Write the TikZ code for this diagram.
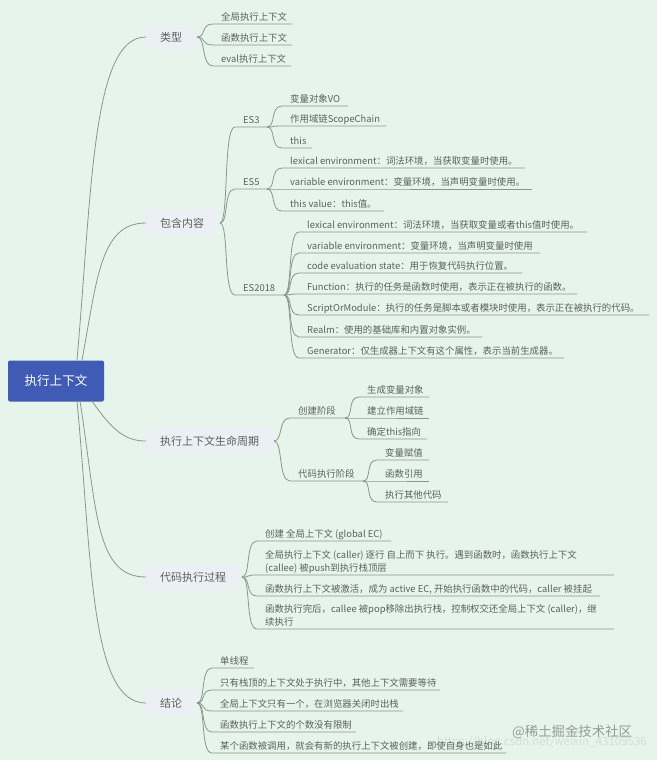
\documentclass[tikz,border=0pt]{standalone}
\usepackage{fontspec}
\setmainfont{Noto Sans CJK SC}
\usepackage{tikz}
\usetikzlibrary{calc}
\definecolor{bgmint}{HTML}{E7F4EB}
\definecolor{rootblue}{HTML}{3F5BB5}
\definecolor{branchbg}{HTML}{EBF0F4}
\definecolor{inkgrey}{HTML}{59625D}
\definecolor{wirecol}{HTML}{8B958F}
\definecolor{markgrey}{HTML}{929C97}
\definecolor{markfaint}{HTML}{D2DED7}
\tikzset{
  rootbox/.style={fill=rootblue, rounded corners=2pt, text=white, font=\fontsize{12.6}{14}\selectfont, minimum width=96pt, minimum height=41pt, inner sep=0pt},
  branch/.style={fill=branchbg, rounded corners=3pt, text=inkgrey, font=\fontsize{11}{13}\selectfont, minimum height=26pt, inner xsep=14pt, inner ysep=0pt},
  leaf/.style={text=inkgrey, font=\fontsize{9.4}{13}\selectfont, anchor=south west, inner xsep=0pt, inner ysep=1.5pt, align=left, text height=8pt, text depth=2pt},
  wire/.style={draw=wirecol, line width=0.8pt},
}
% draws a curved connector into the south west of a node, then its underline
\newcommand{\link}[3]{\draw[wire] (#1) .. controls ($(#1)+(9,0)$) and ($(#2.south west)+(-20,0)$) .. ($(#2.south west)+(-8,0)$) -- (#2.south west) -- ($(#2.south west)+(#3,0)$);}
\begin{document}
\begin{tikzpicture}[x=1pt,y=-1pt]
\useasboundingbox (0,0) rectangle (657,760);
\fill[bgmint] (0,0) rectangle (657,760);

\node[text=markfaint, font=\fontsize{11.5}{13}\selectfont, anchor=east, inner sep=0pt] (url) at (647,742) {https://blog.csdn.net/weixin\_43109536};

% connectors from the root are drawn first
\node[branch] (kinds) at (171,37) {类型};
\node[branch] (parts) at (182,223) {包含内容};
\node[branch] (life) at (209.5,441) {执行上下文生命周期};
\node[branch] (steps) at (193,577) {代码执行过程};
\node[branch] (result) at (171,703) {结论};
\node[rootbox] (root) at (56,381) {执行上下文};
\coordinate (r1) at (77,360);
\coordinate (r2) at (82,360);
\coordinate (r3) at (92,401);
\coordinate (r4) at (80,401);
\coordinate (r5) at (77,401);
\draw[wire] (r1) .. controls (92,190) and (92,37) .. (kinds.west);
\draw[wire] (r2) .. controls (97,280) and (100,223) .. (parts.west);
\draw[wire] (r3) .. controls (112,430) and (125,441) .. (life.west);
\draw[wire] (r4) .. controls (97,510) and (95,577) .. (steps.west);
\draw[wire] (r5) .. controls (92,560) and (90,703) .. (result.west);

% forks
\coordinate (fk) at (197,37);
\coordinate (fp) at (220,223);
\coordinate (fl) at (274,441);
\coordinate (fs) at (242,577);
\coordinate (fr) at (197,703);
\coordinate (f3) at (267,127);
\coordinate (f5) at (267,189);
\coordinate (f18) at (284,295);
\coordinate (fc) at (345,418);
\coordinate (fx) at (363,481);

% type
\node[leaf] (k1) at (221,24) {全局执行上下文};
\node[leaf] (k2) at (221,45) {函数执行上下文};
\node[leaf] (k3) at (221,66) {eval执行上下文};
\link{fk}{k1}{71}
\link{fk}{k2}{71}
\link{fk}{k3}{70}

% contents
\node[leaf] (es3) at (243,127) {ES3};
\node[leaf] (es5) at (243,189) {ES5};
\node[leaf] (es18) at (243,295) {ES2018};
\link{fp}{es3}{24}
\link{fp}{es5}{24}
\link{fp}{es18}{41}

\node[leaf] (a1) at (290,106) {变量对象VO};
\node[leaf] (a2) at (290,126) {作用域链ScopeChain};
\node[leaf] (a3) at (290,148) {this};
\link{f3}{a1}{58}
\link{f3}{a2}{96}
\link{f3}{a3}{22}

\node[leaf] (b1) at (290,168) {lexical environment：词法环境，当获取变量时使用。};
\node[leaf] (b2) at (290,189) {variable environment：变量环境，当声明变量时使用。};
\node[leaf] (b3) at (290,211) {this value：this值。};
\link{f5}{b1}{235}
\link{f5}{b2}{242}
\link{f5}{b3}{94}

\node[leaf] (c1) at (307,232) {lexical environment：词法环境，当获取变量或者this值时使用。};
\node[leaf] (c2) at (307,253) {variable environment：变量环境，当声明变量时使用};
\node[leaf] (c3) at (307,273) {code evaluation state：用于恢复代码执行位置。};
\node[leaf] (c4) at (307,294) {Function：执行的任务是函数时使用，表示正在被执行的函数。};
\node[leaf] (c5) at (307,315) {ScriptOrModule：执行的任务是脚本或者模块时使用，表示正在被执行的代码。};
\node[leaf] (c6) at (307,337) {Realm：使用的基础库和内置对象实例。};
\node[leaf] (c7) at (307,358) {Generator：仅生成器上下文有这个属性，表示当前生成器。};
\link{f18}{c1}{280}
\link{f18}{c2}{233}
\link{f18}{c3}{215}
\link{f18}{c4}{270}
\link{f18}{c5}{342}
\link{f18}{c6}{175}
\link{f18}{c7}{257}

% lifecycle
\node[leaf] (create) at (298,418) {创建阶段};
\node[leaf] (run) at (298,481) {代码执行阶段};
\link{fl}{create}{47}
\link{fl}{run}{65}

\node[leaf] (d1) at (367,397) {生成变量对象};
\node[leaf] (d2) at (367,418) {建立作用域链};
\node[leaf] (d3) at (367,439) {确定this指向};
\link{fc}{d1}{62}
\link{fc}{d2}{62}
\link{fc}{d3}{60}

\node[leaf] (e1) at (385,460) {变量赋值};
\node[leaf] (e2) at (385,481) {函数引用};
\node[leaf] (e3) at (385,502) {执行其他代码};
\link{fx}{e1}{44}
\link{fx}{e2}{44}
\link{fx}{e3}{63}

% process
\node[leaf] (g1) at (265,541) {创建 全局上下文 (global EC)};
\node[leaf] (g2) at (265,575) {全局执行上下文 (caller) 逐行 自上而下 执行。遇到函数时，函数执行上下文\\(callee) 被push到执行栈顶层};
\node[leaf] (g3) at (265,596) {函数执行上下文被激活，成为 active EC, 开始执行函数中的代码，caller 被挂起};
\node[leaf] (g4) at (265,629) {函数执行完后，callee 被pop移除出执行栈，控制权交还全局上下文 (caller)，继\\续执行};
\link{fs}{g1}{126}
\link{fs}{g2}{349}
\link{fs}{g3}{335}
\link{fs}{g4}{349}

% conclusion
\node[leaf] (h1) at (220,668) {单线程};
\node[leaf] (h2) at (220,690) {只有栈顶的上下文处于执行中，其他上下文需要等待};
\node[leaf] (h3) at (220,711) {全局上下文只有一个，在浏览器关闭时出栈};
\node[leaf] (h4) at (220,732) {函数执行上下文的个数没有限制};
\node[leaf] (h5) at (220,753) {某个函数被调用，就会有新的执行上下文被创建，即使自身也是如此};
\link{fr}{h1}{34}
\link{fr}{h2}{220}
\link{fr}{h3}{183}
\link{fr}{h4}{136}
\link{fr}{h5}{286}

\node[text=markgrey, font=\fontsize{13.4}{15}\selectfont, anchor=west, inner sep=0pt] (mark) at (512,732) {@稀土掘金技术社区};
\end{tikzpicture}
\end{document}
